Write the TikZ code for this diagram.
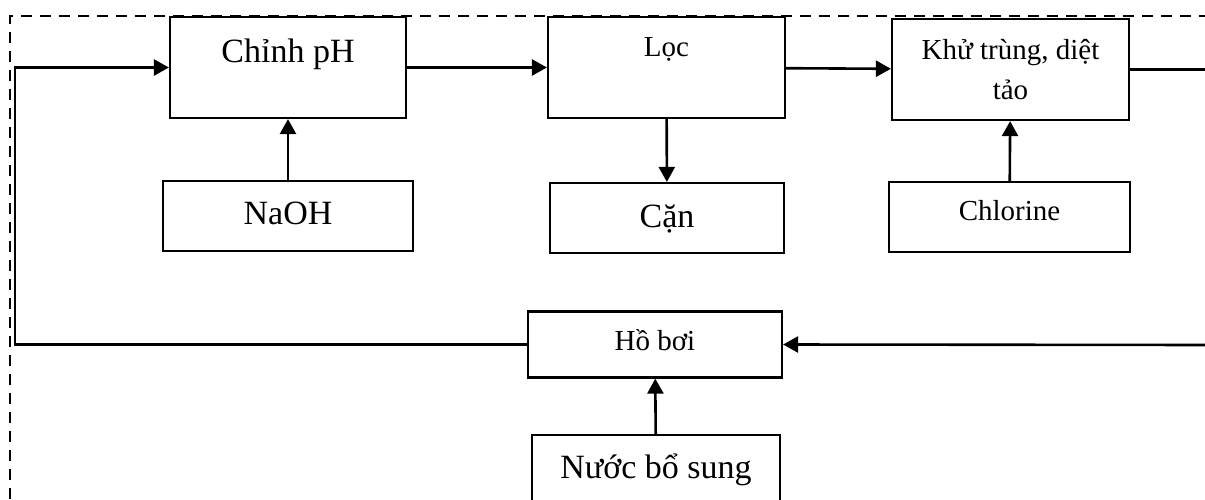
\documentclass[tikz,border=0pt]{standalone}
\usepackage{fontspec}
\setmainfont{Liberation Serif}
\usetikzlibrary{arrows.meta,positioning}
\newcommand{\bigtxt}{\fontsize{34}{40}\selectfont}
\newcommand{\smalltxt}{\fontsize{29}{40}\selectfont}

\begin{document}
\begin{tikzpicture}[x=1pt,y=-1pt,
  box/.style={draw,line width=2.2pt,inner sep=0pt,align=center},
  arr/.style={line width=2.6pt,-{Triangle[length=15pt,width=16pt]}}]
\useasboundingbox (0,0) rectangle (1205,499);
\clip (0,0) rectangle (1205,499);
\draw[line width=2.6pt,dash pattern=on 11pt off 8pt] (10,499) -- (10,16) -- (1205,16);
\node[box,font=\bigtxt,minimum width=236pt,text height=45pt,text depth=56pt] (chinh) at (288,67.5) {Chỉnh pH};
\node[box,font=\smalltxt,minimum width=237pt,text height=39pt,text depth=62pt] (loc) at (666.5,67.5) {Lọc};
\node[box,font=\smalltxt,minimum width=237pt,minimum height=101pt] (khu) at (1010.5,69.5) {Khử trùng, diệt\\tảo};
\node[box,font=\bigtxt,minimum width=250pt,text height=43pt,text depth=27pt] (naoh) at (288,216) {NaOH};
\node[box,font=\bigtxt,minimum width=234pt,text height=44pt,text depth=26pt] (can) at (667,218) {Cặn};
\node[box,font=\smalltxt,minimum width=241pt,text height=38pt,text depth=32pt] (chlor) at (1009.5,217) {Chlorine};
\node[box,font=\smalltxt,minimum width=254pt,text height=39pt,text depth=27pt] (hoboi) at (655,344.5) {Hồ bơi};
\node[box,font=\bigtxt,minimum width=248pt,text height=43pt,text depth=27pt] (nuoc) at (656,470) {Nước bổ sung};
\coordinate (lft) at (15,200);
\coordinate (rgt) at (1215,345);
\draw[arr] (chinh) -- (loc);
\draw[arr] (loc) -- (khu);
\draw[arr] (khu.east) -| (rgt) -- (hoboi.east);
\draw[arr] (hoboi.west) -| (lft) |- (chinh.west);
\draw[arr] (naoh) -- (chinh);
\draw[arr] (loc) -- (can);
\draw[arr] (chlor) -- (khu);
\draw[arr] (nuoc) -- (hoboi);
\end{tikzpicture}
\end{document}
